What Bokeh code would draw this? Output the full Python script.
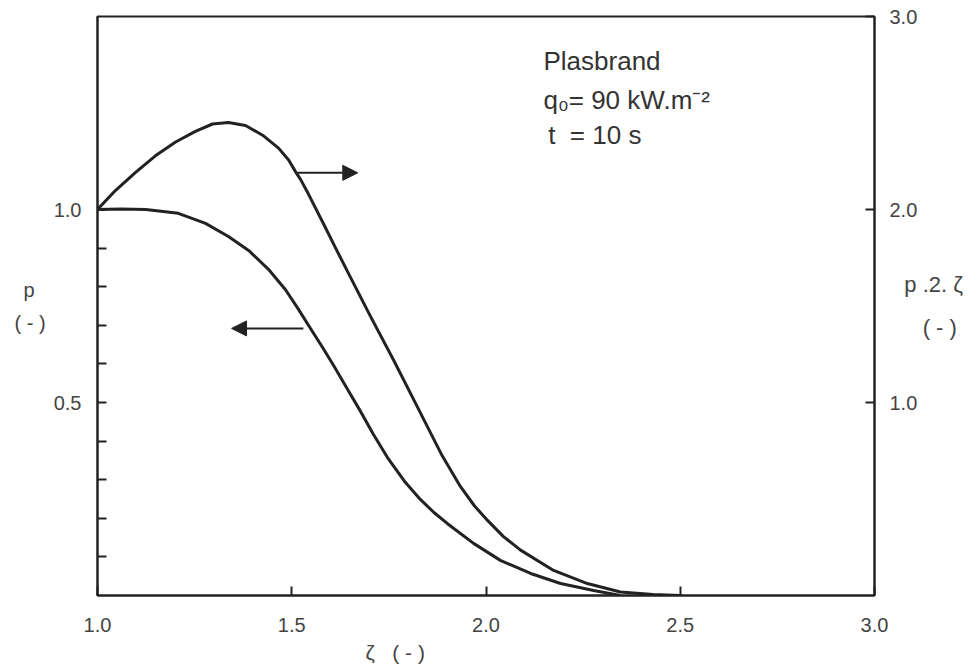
from bokeh.plotting import figure
from bokeh.models import (Range1d, LinearAxis, FixedTicker, Label, Arrow, Title,
                          NormalHead, ColumnDataSource, NumeralTickFormatter)
from bokeh.embed import file_html
from bokeh.resources import INLINE

# ---- data ----
# p (left axis) versus zeta
zeta_p = [1.000, 1.060, 1.124, 1.208, 1.278, 1.337, 1.389, 1.440, 1.484, 1.517,
          1.543, 1.579, 1.607, 1.642, 1.677, 1.710, 1.746, 1.790, 1.831, 1.866,
          1.901, 1.968, 2.037, 2.115, 2.192, 2.277, 2.346]
p_vals = [1.000, 1.001, 1.000, 0.990, 0.964, 0.930, 0.894, 0.845, 0.792, 0.742,
          0.700, 0.643, 0.597, 0.537, 0.477, 0.418, 0.358, 0.296, 0.249, 0.215,
          0.186, 0.135, 0.091, 0.057, 0.031, 0.013, 0.000]

# p . 2 . zeta (right axis) versus zeta
zeta_q = [1.000, 1.046, 1.098, 1.149, 1.201, 1.252, 1.296, 1.337, 1.381, 1.425,
          1.466, 1.492, 1.510, 1.523, 1.543, 1.582, 1.613, 1.644, 1.703, 1.762,
          1.824, 1.839, 1.887, 1.934, 1.970, 2.004, 2.045, 2.089, 2.174, 2.261,
          2.346, 2.430, 2.500]
q_vals = [2.000, 2.098, 2.192, 2.278, 2.350, 2.405, 2.443, 2.451, 2.435, 2.385,
          2.318, 2.256, 2.195, 2.155, 2.080, 1.925, 1.800, 1.677, 1.445, 1.220,
          0.975, 0.915, 0.725, 0.565, 0.465, 0.389, 0.305, 0.235, 0.130, 0.062,
          0.018, 0.005, 0.000]

x_ticks = [1.0, 1.5, 2.0, 2.5, 3.0]
left_major = [0.5, 1.0]
left_minor = [0.1, 0.2, 0.3, 0.4, 0.6, 0.7, 0.8, 0.9]
right_ticks = [1.0, 2.0, 3.0]

NB = "\u00a0"
info_lines = ["Plasbrand", "q\u2080= 90 kW.m\u207B\u00B2", "t" + NB + " = 10 s"]
left_label = "p" + NB * 2 + "\n( - )"
right_label = "p .2. \u03B6\n" + NB * 3 + "( - )"
bottom_label = "\u03B6" + NB * 2 + " (" + NB + "-" + NB + ")"

FONT = "Liberation Sans"
INK = "#222222"
GREY = "#444444"

p = figure(width=977, height=671,
           min_border_left=97, min_border_right=103,
           min_border_top=16, min_border_bottom=76,
           x_range=Range1d(1.0, 3.0), y_range=Range1d(0.0, 1.5),
           output_backend="svg", toolbar_location=None,
           background_fill_color="white", border_fill_color="white")
p.extra_y_ranges = {"right": Range1d(0.0, 3.0)}
p.grid.visible = False
p.outline_line_color = INK
p.outline_line_width = 2

# curves
src_p = ColumnDataSource(dict(x=zeta_p, y=p_vals))
src_q = ColumnDataSource(dict(x=zeta_q, y=q_vals))
p.line("x", "y", source=src_p, line_width=3, line_color=INK, line_join="round")
p.line("x", "y", source=src_q, line_width=3, line_color=INK, line_join="round",
       y_range_name="right")

def style(ax, standoff):
    ax.axis_line_color = INK
    ax.axis_line_width = 2
    ax.major_tick_in = 9
    ax.major_tick_out = 0
    ax.minor_tick_in = 9
    ax.minor_tick_out = 0
    ax.major_tick_line_color = INK
    ax.major_tick_line_width = 2
    ax.minor_tick_line_color = INK
    ax.minor_tick_line_width = 2
    ax.major_label_text_font = FONT
    ax.major_label_text_font_size = "20px"
    ax.major_label_text_color = GREY
    ax.major_label_standoff = standoff
    ax.formatter = NumeralTickFormatter(format="0.0")
    ax.axis_label_text_font = FONT
    ax.axis_label_text_font_size = "20px"
    ax.axis_label_text_font_style = "normal"
    ax.axis_label_text_color = GREY

xa = p.xaxis[0]
xa.ticker = FixedTicker(ticks=x_ticks, minor_ticks=[])
style(xa, 22)

ya = p.yaxis[0]
ya.ticker = FixedTicker(ticks=left_major, minor_ticks=left_minor)
style(ya, 16)
ya.axis_label = left_label
ya.axis_label_orientation = "horizontal"
ya.axis_label_standoff = 5
ya.axis_label_text_line_height = 1.5

ra = LinearAxis(y_range_name="right")
ra.ticker = FixedTicker(ticks=right_ticks, minor_ticks=[])
style(ra, 15)
ra.axis_label = right_label
ra.axis_label_orientation = "horizontal"
ra.axis_label_standoff = -16
ra.axis_label_text_font_size = "22px"
ra.axis_label_text_line_height = 1.75
p.add_layout(ra, "right")

# bottom axis title, offset to the left as in the reference
p.add_layout(Title(text=bottom_label, align="left", offset=268,
                   text_font=FONT, text_font_size="21px",
                   text_font_style="normal", text_color=GREY, standoff=9),
             "below")

# info text
for i, (t, yv) in enumerate(zip(info_lines, [1.386, 1.283, 1.192])):
    p.add_layout(Label(x=2.148 + (0.012 if i == 2 else 0.0), y=yv, text=t,
                       text_font=FONT, text_font_size="26px",
                       text_color="#333333", text_align="left",
                       text_baseline="middle"))

# arrows
p.add_layout(Arrow(x_start=1.515, y_start=2.19, x_end=1.67, y_end=2.19,
                   y_range_name="right", line_width=2, line_color=INK,
                   end=NormalHead(size=15, fill_color=INK, line_color=INK)))
p.add_layout(Arrow(x_start=1.53, y_start=0.692, x_end=1.345, y_end=0.692,
                   line_width=2, line_color=INK,
                   end=NormalHead(size=15, fill_color=INK, line_color=INK)))

open("out.html", "w").write(file_html(p, INLINE))
